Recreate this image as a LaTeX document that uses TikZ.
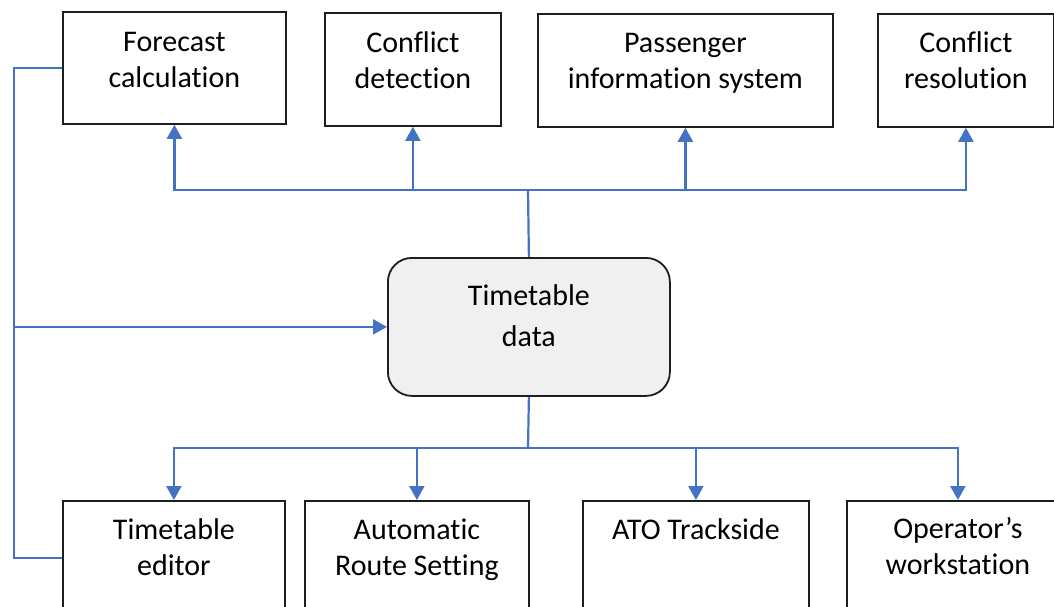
\documentclass[tikz,border=0pt]{standalone}
\usepackage{fontspec}
\setmainfont{Carlito}[Ligatures=NoCommon]
\usetikzlibrary{arrows.meta}

\definecolor{flow}{HTML}{4472C4}
\definecolor{frame}{HTML}{1E1E1E}
\definecolor{store}{HTML}{F0F0F0}

% box text: width, height, first-baseline drop, lines
\newcommand\boxtxt[4]{\parbox[c][#2pt][t]{#1pt}{\centering\rule{0pt}{#3pt}#4}}

\tikzset{
  blk/.style={draw=frame, line width=1.8pt, inner sep=0pt, anchor=north west,
              font=\fontsize{30}{36}\selectfont, text=black},
  datastore/.style={blk, fill=store, rounded corners=24pt,
              font=\fontsize{30}{41}\selectfont},
  conn/.style={draw=flow, line width=2.2pt},
  arr/.style={conn, -{Triangle[length=14pt,width=15pt]}}
}

\begin{document}
\begin{tikzpicture}[x=1pt,y=-1pt]
\clip (0,0) rectangle (1054,607);
\fill[white] (0,0) rectangle (1054,607);

% consumers above
\node[blk] (fc)  at (62,11)  {\boxtxt{223}{112}{40}{Forecast\\calculation}};
\node[blk] (cd)  at (324,12) {\boxtxt{176}{113}{40}{Conflict\\detection}};
\node[blk] (pis) at (537,13) {\boxtxt{295}{113}{39}{Passenger\\information system}};
\node[blk] (cr)  at (877,13) {\boxtxt{176}{113}{39}{Conflict\\resolution}};

% central data store
\node[datastore] (td) at (387,257) {\boxtxt{282}{138}{48}{Timetable\\data}};

% consumers below
\node[blk] (te)  at (62,500)  {\boxtxt{222}{114}{39}{Timetable\\editor}};
\node[blk] (ars) at (304,500) {\boxtxt{224}{114}{39}{Automatic\\Route Setting}};
\node[blk] (ato) at (582,500) {\boxtxt{226}{114}{39}{ATO Trackside}};
\node[blk] (op)  at (846,500) {\boxtxt{222}{114}{38}{Operator’s\\workstation}};

% upper distribution bus
\coordinate (tb) at (528,190);
\draw[conn] (td.north) -- (tb);
\draw[arr] (tb) -| (fc.south);
\draw[arr] (tb) -| (cd.south);
\draw[arr] (tb) -| (pis.south);
\draw[arr] (tb) -| (cr.south);

% lower distribution bus
\coordinate (bb) at (528,448);
\draw[conn] (td.south) -- (bb);
\draw[arr] (bb) -| (te.north);
\draw[arr] (bb) -| (ars.north);
\draw[arr] (bb) -| (ato.north);
\draw[arr] (bb) -| (op.north);

% feedback loop on the left
\coordinate (lx) at (14,0);
\draw[conn] (fc.west) -| (lx |- te.west) -- (te.west);
\draw[arr] (lx |- td.west) -- (td.west);
\end{tikzpicture}
\end{document}
